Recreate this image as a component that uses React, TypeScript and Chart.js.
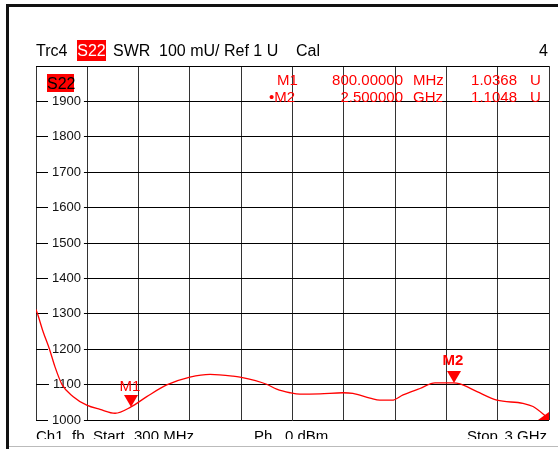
import React, { useEffect, useRef } from "react";
import { Chart, registerables } from "chart.js";

Chart.register(...registerables);

// ---- data ----
const freqMHz = [300, 308, 337, 371, 400, 437, 496, 567, 637, 716, 800, 883, 988, 1110, 1216, 1337, 1374, 1514, 1567, 1637, 1689, 1795, 1916, 1968, 2058, 2110, 2174, 2232, 2321, 2400, 2495, 2532, 2621, 2726, 2863, 2916, 3000];
const swrMU = [1312, 1300, 1250, 1200, 1150, 1100, 1066, 1042, 1030, 1019, 1037, 1066, 1099, 1121, 1129, 1124, 1121, 1101, 1087, 1077, 1073, 1074, 1077, 1075, 1062, 1056, 1056, 1071, 1089, 1105, 1105, 1102, 1080, 1056, 1047, 1038, 1003];
const xGridMHz = [300, 570, 840, 1110, 1380, 1650, 1920, 2190, 2460, 2730, 3000];
const yMin = 1000;
const yMax = 2000;
const yStep = 100;
const markerNames = ["M1", "M2"];
const markerFreqs = [800, 2500];
const markerValues = [1036.8, 1104.8];
const activeMarker = "M2";
const markerFreqText = ["800.00000", "2.500000"];
const markerUnitText = ["MHz", "GHz"];
const markerValText = ["1.0368", "1.1048"];

const FONT = '"Liberation Sans", Arial, Helvetica, sans-serif';
const RED = "#ff0000";
const TICK_PAD = 16;

const markerPlugin = {
  id: "vnaMarkers",
  afterDatasetsDraw(chart: any) {
    const ctx = chart.ctx;
    const xs = chart.scales.x;
    const ys = chart.scales.y;
    const area = chart.chartArea;
    ctx.save();
    ctx.fillStyle = RED;
    markerNames.forEach((name, i) => {
      const x = xs.getPixelForValue(markerFreqs[i]);
      const y = ys.getPixelForValue(markerValues[i]);
      const h = 12;
      const w = 7;
      ctx.beginPath();
      ctx.moveTo(x, y);
      ctx.lineTo(x - w, y - h);
      ctx.lineTo(x + w, y - h);
      ctx.closePath();
      ctx.fill();
      const bold = name === activeMarker;
      ctx.font = `${bold ? "bold " : ""}15px ${FONT}`;
      ctx.textAlign = "center";
      ctx.textBaseline = "alphabetic";
      ctx.fillText(name, x - 1, y - h - (bold ? 6 : 4));
    });
    // stop-edge indicator
    ctx.beginPath();
    ctx.moveTo(area.right - 11, area.bottom);
    ctx.lineTo(area.right, area.bottom);
    ctx.lineTo(area.right, area.bottom - 8);
    ctx.closePath();
    ctx.fill();
    ctx.restore();
  },
};

function T(props: {
  x: number;
  base: number;
  size?: number;
  color?: string;
  right?: boolean;
  bold?: boolean;
  children: any;
}) {
  const size = props.size ?? 15;
  const top = props.base - 0.8465 * size;
  const style: any = {
    position: "absolute",
    top,
    fontFamily: FONT,
    fontSize: size,
    lineHeight: `${size}px`,
    color: props.color ?? "#000",
    whiteSpace: "pre",
    fontWeight: props.bold ? "bold" : "normal",
  };
  if (props.right) style.right = 558 - props.x;
  else style.left = props.x;
  return <div style={style}>{props.children}</div>;
}

export default function App() {
  const ref = useRef<HTMLCanvasElement>(null);

  useEffect(() => {
    if (!ref.current) return;
    const chart = new Chart(ref.current, {
      type: "line",
      data: {
        datasets: [
          {
            data: freqMHz.map((f, i) => ({ x: f, y: swrMU[i] })),
            borderColor: RED,
            borderWidth: 1.3,
            pointRadius: 0,
            cubicInterpolationMode: "monotone",
            fill: false,
          },
        ],
      },
      options: {
        animation: false,
        responsive: false,
        maintainAspectRatio: false,
        devicePixelRatio: 1,
        layout: { padding: { left: 36 - 2 * TICK_PAD, right: 9, top: 66, bottom: 29 } },
        plugins: {
          legend: { display: false },
          tooltip: { enabled: false },
          title: { display: false },
        },
        scales: {
          x: {
            type: "linear",
            min: xGridMHz[0],
            max: xGridMHz[xGridMHz.length - 1],
            afterBuildTicks: (axis: any) => {
              axis.ticks = xGridMHz.map((v) => ({ value: v }));
            },
            grid: { color: "#333", lineWidth: 1, drawTicks: false },
            border: { display: false },
            ticks: { display: false },
          },
          y: {
            type: "linear",
            min: yMin,
            max: yMax,
            grid: { color: "#000", lineWidth: 1, drawTicks: false },
            border: { display: false },
            ticks: {
              stepSize: yStep,
              mirror: true,
              padding: TICK_PAD,
              crossAlign: "far",
              color: "#111",
              font: { family: FONT, size: 13 },
              showLabelBackdrop: (c: any) => !!c.tick && c.tick.value !== yMax,
              backdropColor: "#ffffff",
              backdropPadding: { left: 4, right: 3, top: 1, bottom: 1 },
              callback: (v: any) => (Number(v) === yMax ? "" : String(v)),
            },
          },
        },
      } as any,
      plugins: [markerPlugin],
    });
    return () => chart.destroy();
  }, []);

  return (
    <div
      style={{
        position: "fixed",
        left: 0,
        top: 0,
        width: 558,
        height: 449,
        background: "#fff",
        overflow: "hidden",
      }}
    >
      <canvas ref={ref} width={558} height={449} style={{ position: "absolute", left: 0, top: 0, width: 558, height: 449 }} />
      {/* frame */}
      <div style={{ position: "absolute", left: 6, top: 4, width: 552, height: 3, background: "#111" }} />
      <div style={{ position: "absolute", left: 6, top: 4, width: 3, height: 445, background: "#111" }} />
      <div style={{ position: "absolute", left: 9, top: 446, width: 549, height: 1, background: "#bbb" }} />
      {/* header */}
      <T x={36} base={56.7} size={16}>Trc4</T>
      <div
        style={{
          position: "absolute",
          left: 77,
          top: 40,
          width: 29,
          height: 21,
          background: RED,
          color: "#fff",
          fontFamily: FONT,
          fontSize: 16,
          lineHeight: "22px",
          textAlign: "center",
        }}
      >
        S22
      </div>
      <T x={113} base={56.7} size={16}>SWR</T>
      <T x={159} base={56.7} size={16}>100 mU/</T>
      <T x={224} base={56.7} size={16}>Ref 1 U</T>
      <T x={296} base={56.7} size={16}>Cal</T>
      <T x={548} base={56.7} size={16} right>4</T>
      {/* trace label in plot */}
      <div
        style={{
          position: "absolute",
          left: 47,
          top: 74,
          width: 27,
          height: 18,
          background: RED,
          color: "#000",
          fontFamily: FONT,
          fontSize: 16,
          lineHeight: "19px",
          textAlign: "center",
        }}
      >
        S22
      </div>
      {/* marker readout */}
      {markerNames.map((name, i) => {
        const base = 85 + i * 16.7;
        return (
          <React.Fragment key={name}>
            <T x={name === activeMarker ? 269 : 277} base={base} color={RED}>{(name === activeMarker ? "•" : "") + name}</T>
            <T x={403} base={base} color={RED} right>{markerFreqText[i]}</T>
            <T x={413} base={base} color={RED}>{markerUnitText[i]}</T>
            <T x={517} base={base} color={RED} right>{markerValText[i]}</T>
            <T x={530} base={base} color={RED}>U</T>
          </React.Fragment>
        );
      })}
      {/* footer, clipped */}
      <div style={{ position: "absolute", left: 0, top: 424, width: 558, height: 15, overflow: "hidden" }}>
        <div style={{ position: "relative", width: 558, height: 40, top: -424 }}>
          <T x={36} base={441}>Ch1</T>
          <T x={72} base={441}>fb</T>
          <T x={93} base={441}>Start</T>
          <T x={134} base={441}>300 MHz</T>
          <T x={254} base={441}>Ph</T>
          <T x={285} base={441}>0 dBm</T>
          <T x={467} base={441}>Stop</T>
          <T x={547} base={441} right>3 GHz</T>
        </div>
      </div>
    </div>
  );
}
